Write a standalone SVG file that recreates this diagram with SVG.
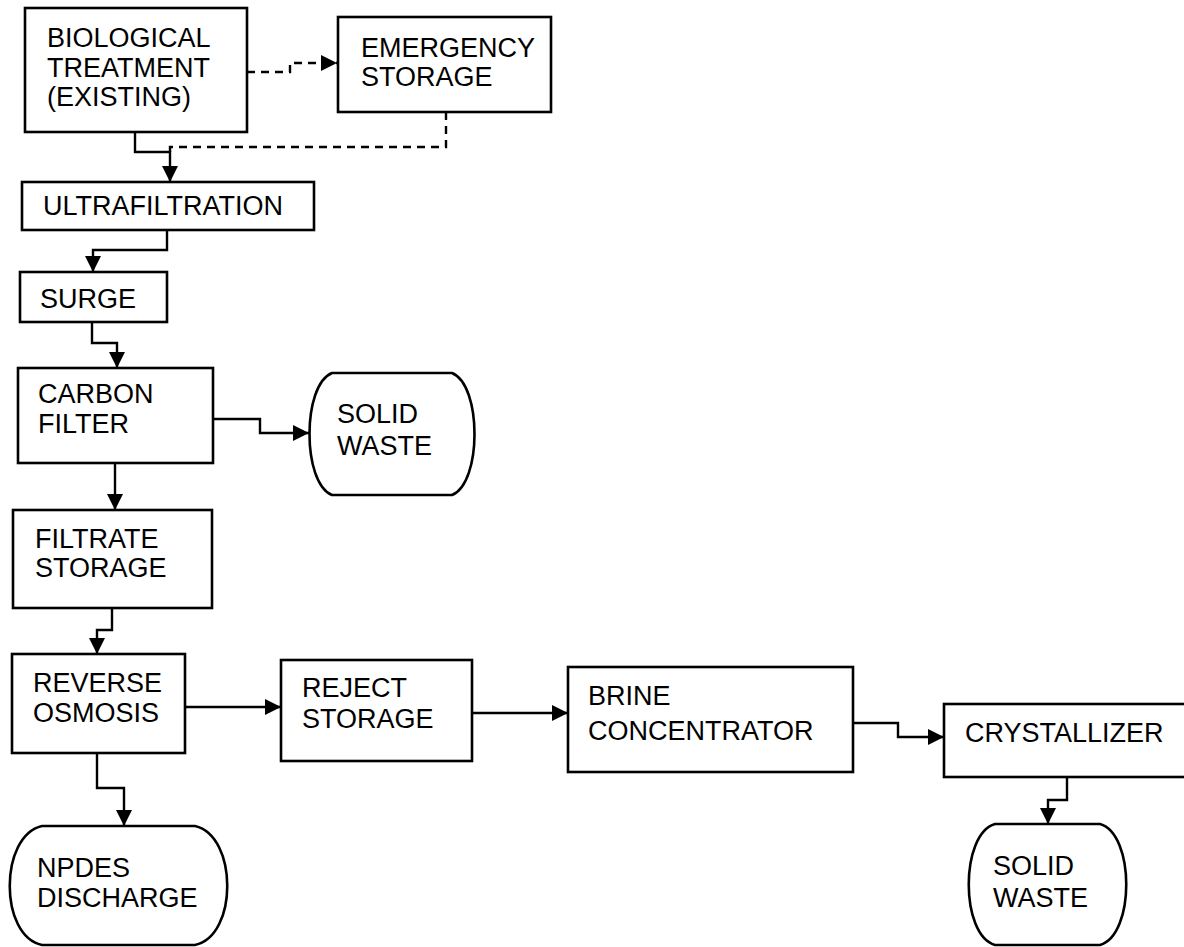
<svg xmlns="http://www.w3.org/2000/svg" width="1184" height="947" viewBox="0 0 1184 947">
<style>
.box{fill:#fff;stroke:#000;stroke-width:2.6}
.t{font-family:"Liberation Sans",Arial,sans-serif;font-size:27px;fill:#000}
.c{fill:none;stroke:#000;stroke-width:2.4}
.d{fill:none;stroke:#000;stroke-width:2.4;stroke-dasharray:8,6}
</style>
<defs>
<marker id="ah" markerUnits="userSpaceOnUse" markerWidth="18" markerHeight="18" refX="16" refY="8" orient="auto">
<path d="M0,0 L16,8 L0,16 Z" fill="#000"/>
</marker>
</defs>
<rect width="1184" height="947" fill="#fff"/>
<g id="connectors">
<path class="d" d="M247,72 H290 V63 H337" marker-end="url(#ah)"/>
<path class="d" d="M446,112 V147 H170 V152"/>
<path class="c" d="M135,132 V152 H170 V182" marker-end="url(#ah)"/>
<path class="c" d="M167,230 V250 H93 V272" marker-end="url(#ah)"/>
<path class="c" d="M92,322 V343 H117 V368" marker-end="url(#ah)"/>
<path class="c" d="M213,419 H260 V433 H309" marker-end="url(#ah)"/>
<path class="c" d="M115,463 V510" marker-end="url(#ah)"/>
<path class="c" d="M112,608 V630 H97 V654" marker-end="url(#ah)"/>
<path class="c" d="M185,707 H281" marker-end="url(#ah)"/>
<path class="c" d="M472,713 H568" marker-end="url(#ah)"/>
<path class="c" d="M853,723 H898 V737 H944" marker-end="url(#ah)"/>
<path class="c" d="M1067,777 V800 H1048 V824" marker-end="url(#ah)"/>
<path class="c" d="M97,753 V788 H124 V826" marker-end="url(#ah)"/>
</g>
<g id="bio">
<rect class="box" x="25" y="8" width="222" height="124"/>
<text class="t" x="47" y="47">BIOLOGICAL</text>
<text class="t" x="47" y="77">TREATMENT</text>
<text class="t" x="47" y="106">(EXISTING)</text>
</g>
<g id="emergency">
<rect class="box" x="338" y="17" width="213" height="95"/>
<text class="t" x="361" y="57">EMERGENCY</text>
<text class="t" x="361" y="86">STORAGE</text>
</g>
<g id="ultra">
<rect class="box" x="22" y="182" width="292" height="48"/>
<text class="t" x="43" y="215">ULTRAFILTRATION</text>
</g>
<g id="surge">
<rect class="box" x="20" y="272" width="147" height="50"/>
<text class="t" x="40" y="308">SURGE</text>
</g>
<g id="carbon">
<rect class="box" x="18" y="368" width="195" height="95"/>
<text class="t" x="38" y="403">CARBON</text>
<text class="t" x="38" y="433">FILTER</text>
</g>
<g id="solid1">
<path class="box" d="M332,373 H452 C482,385 482,483 452,495 H332 C302,483 302,385 332,373 Z"/>
<text class="t" x="337" y="423">SOLID</text>
<text class="t" x="337" y="455">WASTE</text>
</g>
<g id="filtrate">
<rect class="box" x="13" y="510" width="199" height="98"/>
<text class="t" x="35" y="548">FILTRATE</text>
<text class="t" x="35" y="577">STORAGE</text>
</g>
<g id="ro">
<rect class="box" x="12" y="654" width="173" height="99"/>
<text class="t" x="33" y="692">REVERSE</text>
<text class="t" x="33" y="722">OSMOSIS</text>
</g>
<g id="reject">
<rect class="box" x="281" y="660" width="191" height="101"/>
<text class="t" x="302" y="697">REJECT</text>
<text class="t" x="302" y="728">STORAGE</text>
</g>
<g id="brine">
<rect class="box" x="568" y="667" width="285" height="105"/>
<text class="t" x="588" y="705">BRINE</text>
<text class="t" x="588" y="740">CONCENTRATOR</text>
</g>
<g id="crystallizer">
<rect class="box" x="944" y="704" width="250" height="73"/>
<text class="t" x="965" y="742">CRYSTALLIZER</text>
</g>
<g id="npdes">
<path class="box" d="M42,826 H195 C238,836 238,936 195,945 H42 C-1,936 -1,836 42,826 Z"/>
<text class="t" x="37" y="877">NPDES</text>
<text class="t" x="37" y="907">DISCHARGE</text>
</g>
<g id="solid2">
<path class="box" d="M995,824 H1100 C1135,834 1135,935 1100,945 H995 C960,935 960,834 995,824 Z"/>
<text class="t" x="993" y="875">SOLID</text>
<text class="t" x="993" y="907">WASTE</text>
</g>
</svg>
